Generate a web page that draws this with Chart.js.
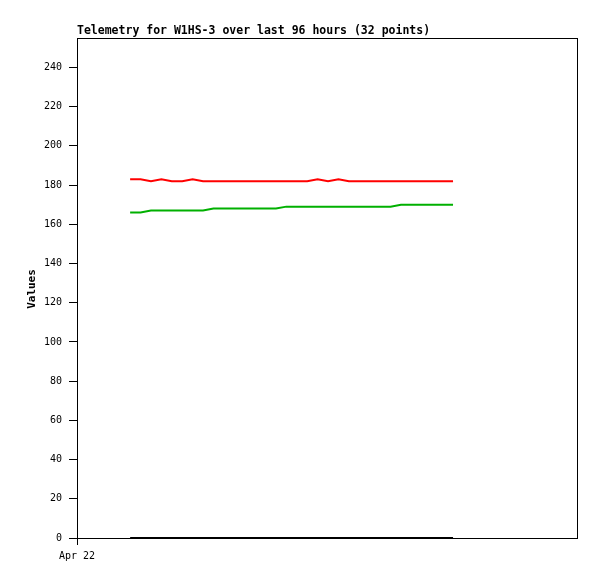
<!DOCTYPE html>
<html>
<head>
<meta charset="utf-8">
<script src="https://cdn.jsdelivr.net/npm/chart.js@4.4.0/dist/chart.umd.min.js"></script>
<style>
  html, body { margin: 0; padding: 0; background: #fff; }
  #wrap { width: 597px; height: 579px; }
</style>
</head>
<body>
<div id="wrap"><canvas id="myChart" width="597" height="579"></canvas></div>
<script>
const title = "Telemetry for W1HS-3 over last 96 hours (32 points)";
const yLabel = "Values";
const startLabel = "Apr 22";

// hours since Apr 22 00:00
const hours = [15.3, 18.3, 21.3, 24.3, 27.3, 30.3, 33.3, 36.3, 39.3, 42.3, 45.3, 48.3,
    51.3, 54.3, 57.3, 60.3, 63.3, 66.3, 69.3, 72.3, 75.3, 78.3, 81.3, 84.3,
    87.3, 90.3, 93.3, 96.3, 99.3, 102.3, 105.3, 108.3];
const redValues = [183, 183, 182, 183, 182, 182, 183, 182, 182, 182, 182, 182,
    182, 182, 182, 182, 182, 182, 183, 182, 183, 182, 182, 182,
    182, 182, 182, 182, 182, 182, 182, 182];
const greenValues = [166, 166, 167, 167, 167, 167, 167, 167, 168, 168, 168, 168,
    168, 168, 168, 169, 169, 169, 169, 169, 169, 169, 169, 169,
    169, 169, 170, 170, 170, 170, 170, 170];
const blackValues = [0, 0, 0, 0, 0, 0, 0, 0, 0, 0, 0, 0,
    0, 0, 0, 0, 0, 0, 0, 0, 0, 0, 0, 0,
    0, 0, 0, 0, 0, 0, 0, 0];

const toPoints = (vals) => vals.map((v, i) => ({ x: hours[i], y: v }));

const mono = "'DejaVu Sans Mono', 'Liberation Mono', monospace";

const frame = {
    id: "frame",
    afterDraw(chart) {
        const { ctx, chartArea: a } = chart;
        ctx.save();
        ctx.strokeStyle = "#000";
        ctx.lineWidth = 1;
        ctx.strokeRect(a.left + 0.5, a.top + 0.5, a.right - a.left, a.bottom - a.top);
        ctx.fillStyle = "#000";
        ctx.font = "bold 11.5px " + mono;
        ctx.textBaseline = "middle";
        ctx.textAlign = "left";
        ctx.fillText(title, a.left, 31.5);
        ctx.font = "bold 11px " + mono;
        ctx.translate(32, 289);
        ctx.rotate(-Math.PI / 2);
        ctx.textAlign = "center";
        ctx.fillText(yLabel, 0, 0);
        ctx.restore();
    },
};

const config = {
    type: "line",
    data: {
        datasets: [
            { data: toPoints(blackValues), borderColor: "#000", borderWidth: 2 },
            { data: toPoints(greenValues), borderColor: "#00b000", borderWidth: 2 },
            { data: toPoints(redValues), borderColor: "#ff0000", borderWidth: 2 },
        ],
    },
    options: {
        responsive: false,
        animation: false,
        layout: { padding: { left: 0, top: 38, right: 20, bottom: 0 } },
        elements: { point: { radius: 0 }, line: { tension: 0 } },
        plugins: {
            legend: { display: false },
            tooltip: { enabled: false },
        },
        scales: {
            x: {
                type: "linear",
                min: 0,
                max: 144,
                afterBuildTicks: (scale) => { scale.ticks = [{ value: 0 }]; },
                afterFit: (scale) => { scale.height = 41; },
                ticks: {
                    callback: () => startLabel,
                    color: "#000",
                    font: { family: mono, size: 10 },
                    padding: 5,
                    maxRotation: 0,
                },
                grid: { drawOnChartArea: false, tickLength: 7, color: "#000" },
                border: { color: "#000" },
            },
            y: {
                min: 0,
                max: 255,
                afterFit: (scale) => { scale.width = 77; },
                ticks: {
                    stepSize: 20,
                    includeBounds: false,
                    color: "#000",
                    font: { family: mono, size: 10 },
                    padding: 7,
                },
                grid: { drawOnChartArea: false, tickLength: 8, color: "#000" },
                border: { color: "#000" },
            },
        },
    },
    plugins: [frame],
};

const ctx = document.getElementById("myChart").getContext("2d");
const chart = new Chart(ctx, config);
</script>
</body>
</html>
